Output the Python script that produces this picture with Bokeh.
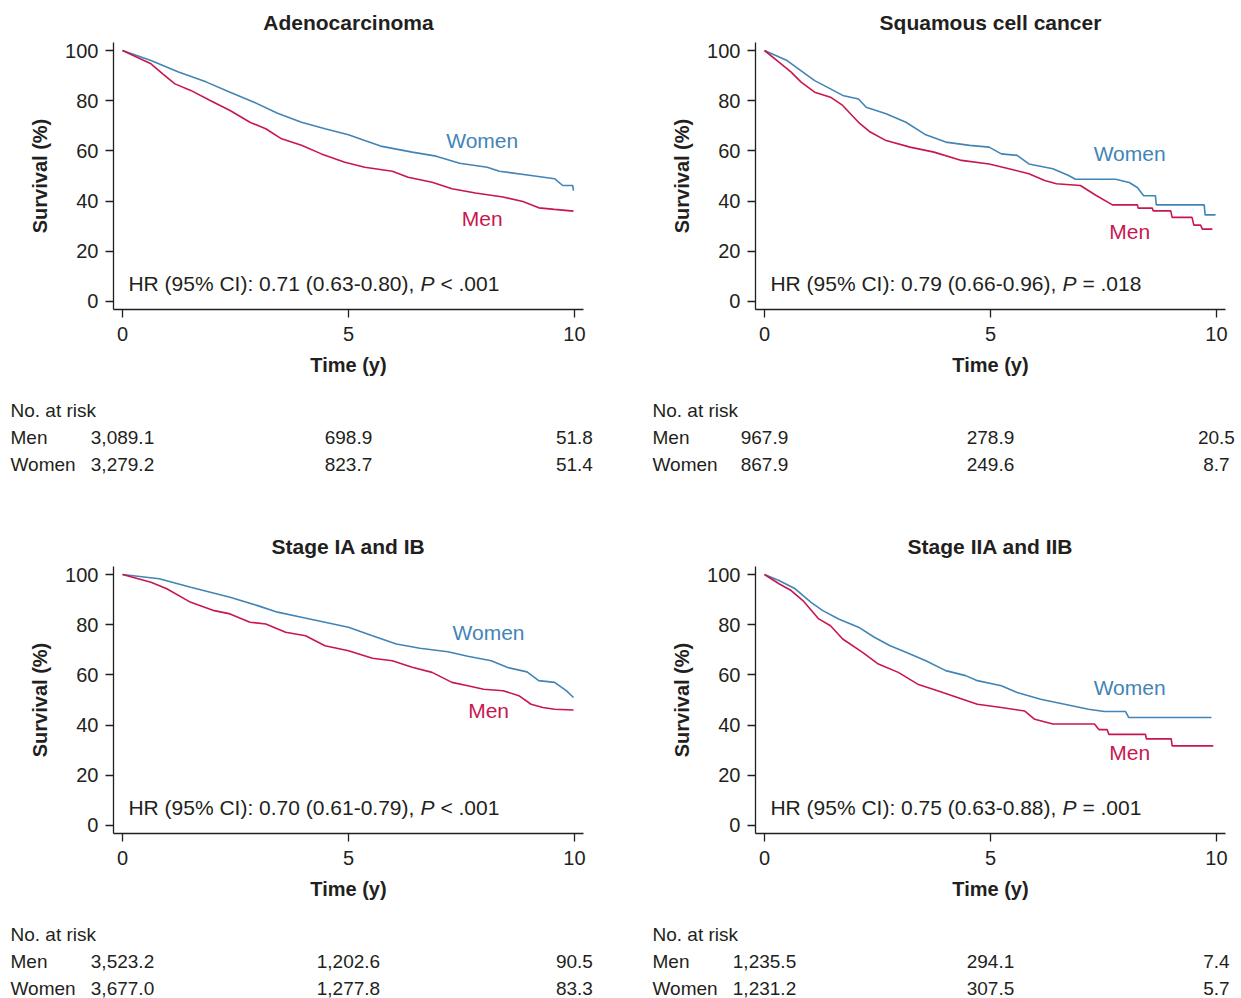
from bokeh.plotting import figure
from bokeh.layouts import column, row
from bokeh.models import Range1d, FixedTicker, Label, ColumnDataSource
from bokeh.embed import file_html
from bokeh.resources import INLINE
from bokeh.core.properties import value

FONT = "Liberation Sans"
TXT = "#231f20"
C_WOMEN = "#4384b6"
C_MEN = "#c8174f"

# ---------------- data ----------------
titles = ["Adenocarcinoma", "Squamous cell cancer", "Stage IA and IB", "Stage IIA and IIB"]
hr_texts = ["HR (95% CI): 0.71 (0.63-0.80), ", "HR (95% CI): 0.79 (0.66-0.96), ",
            "HR (95% CI): 0.70 (0.61-0.79), ", "HR (95% CI): 0.75 (0.63-0.88), "]
p_texts = ["< .001", "= .018", "< .001", "= .001"]

x_ticks = [0, 5, 10]
y_ticks = [0, 20, 40, 60, 80, 100]
risk_times = [0, 5, 10]
risk_header = "No. at risk"
risk_rows = ["Men", "Women"]

adeno_women_t = [0, 0.63, 1.24, 1.86, 2.38, 2.91, 3.43, 3.96, 4.48, 5.0, 5.36, 5.71, 6.41, 6.94,
                 7.46, 8.07, 8.34, 9.04, 9.56, 9.74, 9.96, 9.98]
adeno_women_s = [100, 96.0, 91.4, 87.4, 83.4, 79.4, 75.0, 71.4, 68.8, 66.4, 64.1, 61.9, 59.5, 57.9,
                 55.1, 53.5, 51.9, 50.2, 48.9, 46.2, 46.2, 44.2]
adeno_men_t = [0, 0.63, 0.89, 1.16, 1.51, 1.94, 2.38, 2.82, 3.17, 3.52, 3.96, 4.40, 4.92, 5.36,
               5.97, 6.32, 6.85, 7.29, 7.81, 8.42, 8.86, 9.21, 9.56, 9.98]
adeno_men_s = [100, 94.7, 90.7, 86.7, 84.1, 80.1, 76.1, 71.4, 68.8, 64.8, 62.2, 58.8, 55.5, 53.5,
               51.9, 49.5, 47.5, 44.9, 43.2, 41.6, 39.8, 37.3, 36.7, 36.0]

squam_women_t = [0, 0.5, 0.85, 1.11, 1.46, 1.73, 2.08, 2.25, 2.69, 3.13, 3.57, 4.01, 4.54, 4.97,
                 5.24, 5.59, 5.85, 6.38, 6.73, 6.88, 7.77, 8.07, 8.25, 8.39, 8.65, 8.67, 9.73,
                 9.75, 9.98]
squam_women_s = [100, 96.0, 91.4, 88.0, 84.7, 82.1, 80.7, 77.4, 74.8, 71.4, 66.4, 63.5, 62.2, 61.5,
                 58.8, 58.2, 54.8, 52.9, 50.2, 48.7, 48.7, 47.4, 45.4, 42.1, 42.1, 38.5, 38.5,
                 34.5, 34.5]
squam_men_t = [0, 0.32, 0.59, 0.81, 1.11, 1.46, 1.73, 2.08, 2.34, 2.69, 3.22, 3.75, 4.36, 4.97,
               5.41, 5.85, 6.20, 6.46, 6.99, 7.34, 7.70, 8.25, 8.27, 8.58, 8.60, 8.99, 9.02,
               9.46, 9.50, 9.65, 9.69, 9.91]
squam_men_s = [100, 95.4, 91.4, 87.4, 83.4, 81.4, 78.1, 71.4, 67.5, 64.1, 61.5, 59.5, 56.2, 54.8,
               52.9, 50.9, 48.2, 46.9, 46.2, 42.2, 38.5, 38.5, 37.2, 37.2, 36.1, 36.1, 33.5,
               33.5, 30.4, 30.4, 28.8, 28.8]

st1_women_t = [0, 0.81, 1.51, 2.38, 2.99, 3.43, 3.96, 4.48, 5.0, 5.53, 6.06, 6.58, 7.20, 7.64,
               8.16, 8.51, 8.95, 9.21, 9.56, 9.82, 9.98]
st1_women_s = [100, 98.3, 94.9, 90.9, 87.6, 85.0, 83.0, 81.0, 79.0, 75.6, 72.3, 70.6, 69.2, 67.4,
               65.6, 63.0, 61.2, 57.7, 57.0, 53.7, 51.0]
st1_men_t = [0, 0.63, 0.98, 1.51, 2.03, 2.38, 2.82, 3.17, 3.61, 4.05, 4.48, 5.0, 5.53, 5.97,
             6.41, 6.85, 7.29, 7.64, 7.99, 8.42, 8.77, 9.04, 9.30, 9.56, 9.98]
st1_men_s = [100, 96.9, 94.3, 88.9, 85.6, 84.3, 81.0, 80.3, 77.0, 75.6, 71.6, 69.6, 66.6, 65.6,
             63.0, 61.0, 57.0, 55.7, 54.3, 53.7, 51.7, 48.3, 47.0, 46.3, 46.0]

st2_women_t = [0, 0.32, 0.68, 1.03, 1.29, 1.64, 2.08, 2.43, 2.78, 3.13, 3.57, 4.01, 4.45, 4.71,
               5.24, 5.59, 6.11, 6.64, 7.17, 7.52, 7.99, 8.06, 9.89]
st2_women_s = [100, 97.6, 94.3, 88.9, 85.6, 82.3, 79.0, 75.0, 71.6, 69.0, 65.6, 61.7, 59.7, 57.7,
               55.7, 53.0, 50.3, 48.3, 46.3, 45.4, 45.4, 43.0, 43.0]
st2_men_t = [0, 0.32, 0.59, 0.85, 1.20, 1.46, 1.73, 2.17, 2.52, 2.96, 3.39, 3.83, 4.27, 4.71,
             5.24, 5.76, 5.98, 6.38, 7.30, 7.40, 7.58, 7.62, 8.43, 8.45, 9.00, 9.02, 9.93]
st2_men_s = [100, 96.3, 93.6, 89.6, 82.3, 79.6, 74.3, 69.0, 64.3, 61.0, 56.3, 53.7, 51.0, 48.3,
             47.0, 45.6, 42.3, 40.4, 40.4, 38.2, 38.2, 36.3, 36.3, 34.5, 34.5, 31.7, 31.7]

adeno_risk_men = ["3,089.1", "698.9", "51.8"]
adeno_risk_women = ["3,279.2", "823.7", "51.4"]
squam_risk_men = ["967.9", "278.9", "20.5"]
squam_risk_women = ["867.9", "249.6", "8.7"]
st1_risk_men = ["3,523.2", "1,202.6", "90.5"]
st1_risk_women = ["3,677.0", "1,277.8", "83.3"]
st2_risk_men = ["1,235.5", "294.1", "7.4"]
st2_risk_women = ["1,231.2", "307.5", "5.7"]

# label anchor positions (data units) for "Women" / "Men" annotations
women_label_xy = [(7.96, 64.1), (8.08, 59.0), (8.10, 76.9), (8.08, 55.0)]
men_label_xy = [(7.96, 33.1), (8.08, 27.9), (8.10, 45.8), (8.08, 29.1)]

# ---------------- layout (pixels) ----------------
X0, X1 = -0.2, 10.2          # extent of the drawn x axis
Y0, Y1 = -3.2, 103.2         # extent of the drawn y axis
PPX = 470 / (X1 - X0)        # px per year
PPY = 267 / (Y1 - Y0)        # px per percent
Y100_PX = 50                 # px from the panel top to the 100 % level
TITLE_PX = 22                # title centre, px from panel top
ROW_PX = [409.5, 436.5, 463.5]   # risk-table rows, px from panel top
LABEL_DX = -112              # risk row labels, px from the x = 0 position


def quad(i, width, height, zero_px, wt, ws, mt, ms, risk_m, risk_w):
    xs = -zero_px / PPX
    xe = xs + width / PPX
    ye = 100 + Y100_PX / PPY
    ys = ye - height / PPY
    p = figure(width=width, height=height, x_range=Range1d(xs, xe), y_range=Range1d(ys, ye),
               output_backend="svg", toolbar_location=None, min_border=0,
               background_fill_color="white", border_fill_color="white")
    p.title.visible = False
    p.outline_line_color = None
    p.grid.visible = False

    xa, ya = p.xaxis[0], p.yaxis[0]
    xa.fixed_location = Y0
    ya.fixed_location = X0
    xa.bounds = (X0, X1)
    ya.bounds = (Y0, Y1)
    xa.ticker = FixedTicker(ticks=x_ticks)
    ya.ticker = FixedTicker(ticks=y_ticks)
    xa.axis_label = "Time (y)"
    ya.axis_label = "Survival (%)"
    for ax in (xa, ya):
        ax.axis_line_color = TXT
        ax.axis_line_width = 1.3
        ax.major_tick_line_color = TXT
        ax.major_tick_line_width = 1.3
        ax.major_tick_out = 8
        ax.major_tick_in = 0
        ax.minor_tick_line_color = None
        ax.major_label_text_font = FONT
        ax.major_label_text_font_size = "20px"
        ax.major_label_text_color = TXT
        ax.axis_label_text_font = FONT
        ax.axis_label_text_font_size = "20px"
        ax.axis_label_text_font_style = "bold"
        ax.axis_label_text_color = TXT
    xa.major_label_standoff = 10
    xa.axis_label_standoff = 9
    ya.major_label_standoff = 7
    ya.axis_label_standoff = 11

    # panel title
    p.text(x=[(X0 + X1) / 2], y=[ye - TITLE_PX / PPY], text=[titles[i]],
           text_align="center", text_baseline="middle", text_font=value(FONT),
           text_font_size="21px", text_font_style="bold", text_color=TXT)

    # survival curves
    p.line(wt, ws, line_color=C_WOMEN, line_width=1.6)
    p.line(mt, ms, line_color=C_MEN, line_width=1.6)

    wx, wy = women_label_xy[i]
    mx, my = men_label_xy[i]
    for (lx, ly), txt, col in (((wx, wy), "Women", C_WOMEN), ((mx, my), "Men", C_MEN)):
        p.add_layout(Label(x=lx, y=ly, text=txt, text_align="center", text_baseline="middle",
                           text_font=FONT, text_font_size="21px", text_color=col))
    hx, hy = 0.13, 7.2
    p.add_layout(Label(x=hx, y=hy, text=hr_texts[i], text_baseline="middle",
                       text_font=FONT, text_font_size="21px", text_color=TXT))
    p.add_layout(Label(x=hx, y=hy, x_offset=292, text="P", text_baseline="middle",
                       text_font=FONT, text_font_size="21px", text_font_style="italic",
                       text_color=TXT))
    p.add_layout(Label(x=hx, y=hy, x_offset=312, text=p_texts[i], text_baseline="middle",
                       text_font=FONT, text_font_size="21px", text_color=TXT))

    # number-at-risk table
    row_y = [ye - r / PPY for r in ROW_PX]
    lab_x = LABEL_DX / PPX
    hdr = ColumnDataSource(dict(x=[lab_x] * 3, y=row_y, t=[risk_header] + risk_rows))
    p.text(x="x", y="y", text="t", source=hdr, text_align="left", text_baseline="middle",
           text_font=value(FONT), text_font_size="19px", text_color=TXT)
    vals = ColumnDataSource(dict(x=risk_times + risk_times,
                                 y=[row_y[1]] * len(risk_times) + [row_y[2]] * len(risk_times),
                                 t=risk_m + risk_w))
    p.text(x="x", y="y", text="t", source=vals, text_align="center", text_baseline="middle",
           text_font=value(FONT), text_font_size="19px", text_color=TXT)
    return p


q1 = quad(0, 628, 524, 122, adeno_women_t, adeno_women_s, adeno_men_t, adeno_men_s,
          adeno_risk_men, adeno_risk_women)
q2 = quad(1, 613, 524, 136, squam_women_t, squam_women_s, squam_men_t, squam_men_s,
          squam_risk_men, squam_risk_women)
q3 = quad(2, 628, 474, 122, st1_women_t, st1_women_s, st1_men_t, st1_men_s,
          st1_risk_men, st1_risk_women)
q4 = quad(3, 613, 474, 136, st2_women_t, st2_women_s, st2_men_t, st2_men_s,
          st2_risk_men, st2_risk_women)

layout = column(row(q1, q2), row(q3, q4))

open("out.html", "w").write(file_html(layout, INLINE, title="Survival by sex"))
